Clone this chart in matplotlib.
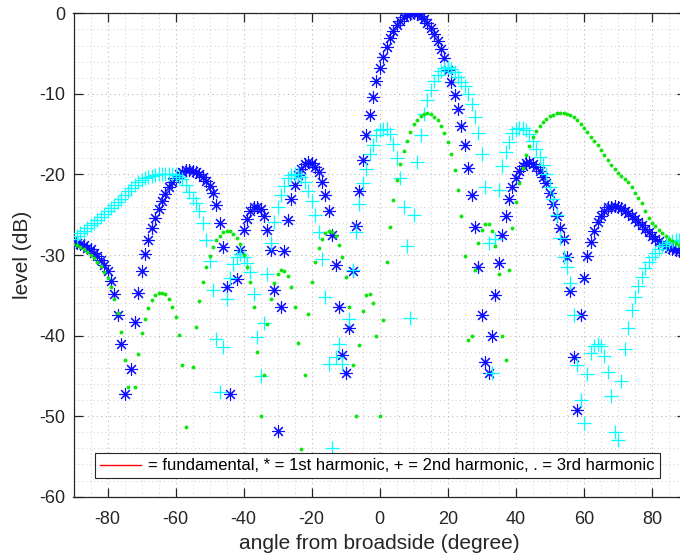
import matplotlib
matplotlib.use("Agg")
import matplotlib.pyplot as plt
from matplotlib.lines import Line2D
from matplotlib.ticker import MultipleLocator

plt.rcParams['font.family'] = ['Liberation Sans', 'DejaVu Sans']
plt.rcParams['axes.unicode_minus'] = False

# sampling grid (degrees)
angle_deg = list(range(-90, 91))

# 1st harmonic (dB), one value per degree from -90 to 90
first_harm = [
    -28.3, -28.5, -28.6, -28.8, -29.1, -29.3, -29.7, -30.1, -30.6, -31.2,   # -90..-81
    -32.0, -33.2, -34.8, -37.5, -41.0, -47.3, -65.0, -44.1, -38.3, -34.7,   # -80..-71
    -32.0, -29.9, -28.1, -26.7, -25.4, -24.3, -23.3, -22.4, -21.6, -20.9,   # -70..-61
    -20.4, -20.0, -19.7, -19.5, -19.5, -19.6, -19.7, -20.0, -20.3, -20.8,   # -60..-51
    -21.4, -22.3, -23.8, -26.0, -29.0, -34.0, -47.3, -65.0, -33.0, -29.4,   # -50..-41
    -26.9, -25.5, -24.6, -24.1, -24.0, -24.3, -25.1, -26.9, -29.4, -34.4,   # -40..-31
    -51.8, -36.4, -29.5, -25.7, -23.1, -21.3, -20.1, -19.3, -18.7, -18.5,   # -30..-21
    -18.6, -19.1, -19.7, -20.9, -22.5, -24.6, -27.5, -31.3, -36.4, -42.4,   # -20..-11
    -44.7, -39.1, -32.0, -26.4, -22.0, -18.2, -15.1, -12.6, -10.4, -8.4,    # -10..-1
    -6.8, -5.4, -4.2, -3.1, -2.2, -1.5, -0.9, -0.5, -0.2, -0.05,            # 0..9
    0.0, -0.1, -0.3, -0.65, -1.2, -1.8, -2.6, -3.4, -4.4, -5.6,             # 10..19
    -7.0, -8.5, -10.1, -11.9, -14.0, -16.4, -19.2, -22.5, -26.5, -31.5,     # 20..29
    -37.4, -43.3, -44.6, -40.1, -35.0, -31.0, -27.5, -25.2, -23.1, -21.6,   # 30..39
    -20.5, -19.6, -19.0, -18.6, -18.5, -18.7, -19.1, -19.6, -20.3, -21.1,   # 40..49
    -22.3, -23.7, -25.2, -26.6, -28.0, -30.2, -34.5, -42.6, -49.3, -37.4,   # 50..59
    -32.9, -30.1, -28.4, -27.0, -25.9, -25.1, -24.5, -24.1, -24.0, -23.95,  # 60..69
    -24.0, -24.2, -24.5, -24.8, -25.2, -25.5, -25.9, -26.3, -26.8, -27.2,   # 70..79
    -27.6, -28.0, -28.3, -28.6, -28.9, -29.1, -29.3, -29.4, -29.5, -29.6,   # 80..89
    -29.6,                                                                  # 90
]

# 2nd harmonic (dB)
second_harm = [
    -28.0, -27.6, -27.3, -27.0, -26.6, -26.3, -26.0, -25.7, -25.3, -24.9,   # -90..-81
    -24.6, -24.2, -23.8, -23.4, -23.0, -22.5, -22.1, -21.7, -21.3, -21.0,   # -80..-71
    -20.7, -20.5, -20.3, -20.2, -20.1, -20.0, -20.0, -20.0, -20.0, -20.0,   # -70..-61
    -20.1, -20.3, -20.6, -21.3, -22.2, -22.9, -23.6, -24.6, -26.0, -28.1,   # -60..-51
    -30.7, -34.3, -40.4, -47.0, -41.4, -35.5, -32.8, -31.1, -30.2, -29.9,   # -50..-41
    -30.3, -31.0, -32.1, -34.8, -40.2, -45.0, -38.4, -32.3, -28.5, -25.9,   # -40..-31
    -24.1, -22.6, -21.4, -20.5, -20.1, -19.9, -19.9, -20.3, -20.9, -22.1,   # -30..-21
    -23.3, -25.0, -27.2, -30.5, -35.2, -43.5, -54.0, -42.6, -41.0, -43.5,   # -20..-11
    -62.0, -38.0, -31.9, -27.2, -23.7, -21.1, -19.3, -17.5, -16.3, -15.1,   # -10..-1
    -14.5, -14.3, -14.4, -15.0, -16.2, -18.0, -20.5, -24.0, -28.9, -37.8,   # 0..9
    -25.0, -18.4, -15.1, -12.5, -10.8, -9.5, -8.4, -7.6, -7.1, -6.8,        # 10..19
    -6.7, -6.9, -7.3, -7.9, -8.5, -9.0, -10.0, -11.2, -12.9, -14.9,         # 20..29
    -17.5, -21.5, -28.5, -44.6, -28.0, -21.9, -19.0, -17.2, -16.0, -14.9,   # 30..39
    -14.4, -14.2, -14.2, -14.5, -15.0, -15.8, -16.8, -17.8, -18.8, -20.0,   # 40..49
    -21.5, -23.0, -25.0, -27.9, -30.2, -31.5, -33.5, -37.5, -43.7, -48.0,   # 50..59
    -50.9, -44.8, -42.2, -41.3, -41.0, -41.3, -42.5, -44.5, -47.5, -52.0,   # 60..69
    -53.0, -45.7, -41.7, -39.0, -36.8, -35.2, -33.9, -32.7, -31.6, -30.9,   # 70..79
    -30.2, -29.7, -29.2, -28.9, -28.6, -28.4, -28.3, -28.2, -28.2, -28.2,   # 80..89
    -28.2,                                                                  # 90
]

# 3rd harmonic (dB)
third_harm = [
    -28.6, -28.8, -29.0, -29.3, -29.6, -30.0, -30.4, -30.9, -31.4, -32.1,   # -90..-81
    -32.9, -34.0, -35.4, -37.2, -39.6, -43.0, -46.4, -55.0, -46.4, -42.3,   # -80..-71
    -39.7, -37.9, -36.6, -35.6, -35.0, -34.7, -34.7, -34.9, -35.5, -36.5,   # -70..-61
    -37.7, -39.9, -43.6, -51.4, -65.0, -43.9, -38.9, -35.7, -33.3, -31.5,   # -60..-51
    -30.1, -29.0, -28.2, -27.6, -27.1, -27.0, -27.0, -27.4, -27.9, -28.6,   # -50..-41
    -30.0, -31.5, -33.4, -36.4, -42.1, -50.0, -44.9, -38.6, -35.4, -33.5,   # -40..-31
    -32.3, -31.9, -32.0, -32.6, -34.0, -36.4, -40.9, -54.1, -44.9, -37.3,   # -30..-21
    -33.4, -30.9, -29.1, -28.0, -27.3, -27.0, -27.2, -27.7, -28.7, -30.3,   # -20..-11
    -32.7, -36.5, -43.7, -50.0, -41.2, -36.9, -35.0, -34.8, -36.0, -40.1,   # -10..-1
    -50.0, -38.1, -30.9, -26.5, -23.2, -20.7, -18.7, -17.1, -15.8, -14.7,   # 0..9
    -13.8, -13.2, -12.8, -12.5, -12.4, -12.5, -12.9, -13.3, -14.0, -14.9,   # 10..19
    -16.0, -17.5, -19.4, -21.9, -25.2, -30.1, -40.6, -40.1, -31.8, -28.5,   # 20..29
    -26.9, -26.2, -26.2, -27.0, -28.9, -32.3, -40.1, -43.0, -31.8, -26.7,   # 30..39
    -23.4, -21.1, -19.2, -17.6, -16.5, -15.4, -14.6, -14.0, -13.5, -13.1,   # 40..49
    -12.8, -12.6, -12.4, -12.4, -12.4, -12.5, -12.6, -12.9, -13.3, -13.7,   # 50..59
    -14.2, -14.7, -15.3, -15.9, -16.4, -17.0, -17.6, -18.2, -18.8, -19.3,   # 60..69
    -19.8, -20.2, -20.6, -20.9, -21.6, -22.3, -22.9, -23.6, -24.6, -25.4,   # 70..79
    -26.0, -26.4, -26.9, -27.3, -27.7, -28.0, -28.3, -28.5, -28.7, -28.8,   # 80..89
    -28.9,                                                                  # 90
]

x_ticks = [-80, -60, -40, -20, 0, 20, 40, 60, 80]
y_ticks = [0, -10, -20, -30, -40, -50, -60]
legend_label = "= fundamental, * = 1st harmonic, + = 2nd harmonic, . = 3rd harmonic"

fig = plt.figure(figsize=(6.8, 5.59), dpi=100)
ax = fig.add_axes([73.5 / 680, 62.3 / 559, 612.5 / 680, 483.4 / 559])

ax.plot(angle_deg, first_harm, linestyle='none', marker=(8, 2, 0), markersize=9,
        markeredgewidth=0.8, color=(0.05, 0.05, 1), zorder=3)
ax.plot(angle_deg, second_harm, linestyle='none', marker='+', markersize=9.5,
        markeredgewidth=0.9, color=(0, 1, 1), zorder=4)
ax.plot(angle_deg, third_harm, linestyle='none', marker='o', markersize=2.8,
        markeredgewidth=0, color=(0.05, 0.9, 0.05), zorder=5)

ax.set_xlim(-90, 90)
ax.set_ylim(-60, 0)
ax.set_xticks(x_ticks)
ax.set_yticks(y_ticks)
ax.xaxis.set_minor_locator(MultipleLocator(5))
ax.yaxis.set_minor_locator(MultipleLocator(2))
ax.grid(which='major', linestyle=(0, (1, 3)), color='#b8b8b8', linewidth=0.8)
ax.grid(which='minor', linestyle=(0, (1, 3)), color='#cccccc', linewidth=0.7)
ax.set_axisbelow(True)
ax.tick_params(which='major', direction='in', length=6.5, width=0.9, colors='#262626',
               labelsize=13, top=True, right=True)
ax.tick_params(axis='x', which='major', pad=10.5)
ax.tick_params(axis='y', which='major', pad=6)
ax.tick_params(which='minor', length=0)
for s in ax.spines.values():
    s.set_color('#262626')
    s.set_linewidth(0.9)

ax.set_xlabel('angle from broadside (degree)', fontsize=15, color='#262626', labelpad=4)
ax.set_ylabel('level (dB)', fontsize=15, color='#262626', labelpad=5)

handle = Line2D([], [], color='red', linewidth=1.0)
leg = ax.legend([handle], [legend_label], loc='lower left',
                bbox_to_anchor=((95 - 73.5) / 612.5, (496.7 - 478.3) / 483.4),
                fontsize=11.95, frameon=True, fancybox=False, framealpha=1,
                edgecolor='#262626', handlelength=2.5, handletextpad=0.4,
                borderpad=0.3, borderaxespad=0)
leg.get_frame().set_linewidth(0.8)

fig.savefig('out.png', dpi=100)
